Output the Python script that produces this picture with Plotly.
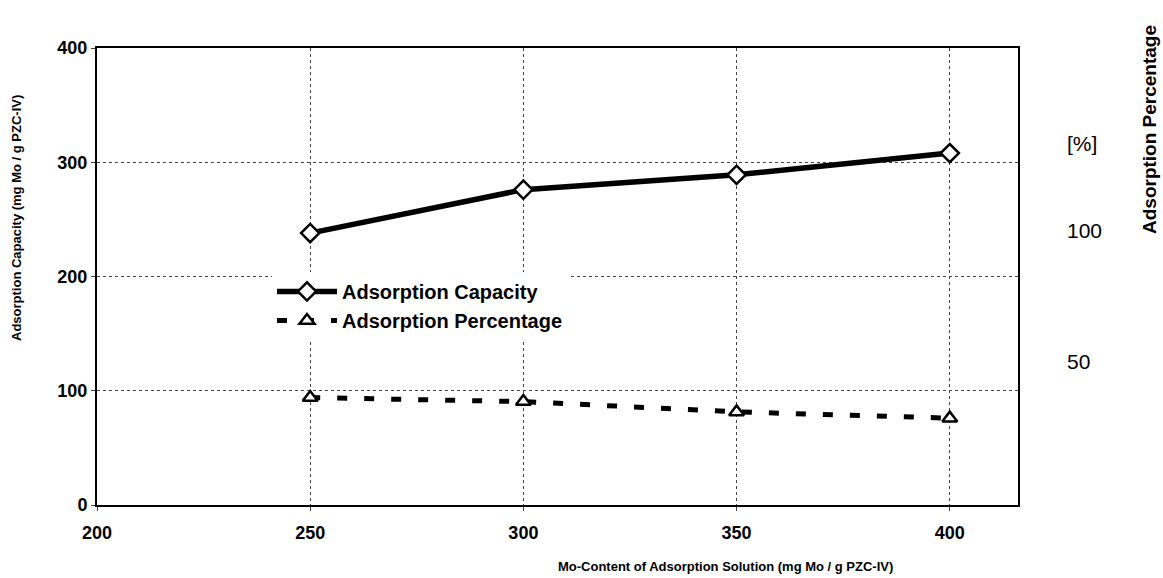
import plotly.graph_objects as go

mo_content = [250, 300, 350, 400]
adsorption_capacity = [238, 276, 289, 308]
adsorption_percentage = [94, 90.5, 81.5, 76]

x_ticks = [200, 250, 300, 350, 400]
y_ticks = [0, 100, 200, 300, 400]
y2_tickvals = [50, 100, 133.5]
y2_ticktext = ["50", "100", "[%]"]

FONT = "Liberation Sans, Arial, sans-serif"

fig = go.Figure()
fig.add_trace(go.Scatter(
    x=mo_content, y=adsorption_capacity, name="<b>Adsorption Capacity</b>",
    mode="lines+markers",
    line=dict(color="black", width=5.5),
    marker=dict(symbol="diamond", size=14, color="white", line=dict(color="black", width=2.5)),
))
fig.add_trace(go.Scatter(
    x=mo_content, y=adsorption_percentage, name="<b>Adsorption Percentage</b>",
    mode="lines+markers",
    line=dict(color="black", width=5, dash="10px,17px"),
    marker=dict(symbol="triangle-up", size=13, color="white", line=dict(color="black", width=2.5)),
))
# invisible trace to activate right axis
fig.add_trace(go.Scatter(x=[200], y=[0], yaxis="y2", mode="markers",
                         marker=dict(opacity=0), showlegend=False, hoverinfo="skip"))

fig.update_layout(
    width=1163, height=578,
    margin=dict(l=97, r=145, t=48, b=73, autoexpand=False),
    paper_bgcolor="white", plot_bgcolor="white",
    font=dict(family=FONT, color="black"),
    showlegend=True,
    legend=dict(x=0.19, y=0.51, xanchor="left", yanchor="top",
                bgcolor="white", borderwidth=0,
                font=dict(size=20, family=FONT, color="black"),
                tracegroupgap=0, itemwidth=60),
    xaxis=dict(range=[200, 416], tickvals=x_ticks,
               ticktext=[f"<b>{v}</b>" for v in x_ticks],
               tickfont=dict(size=18), ticks="outside", ticklen=4,
               ticklabelstandoff=6,
               showline=True, linecolor="black", linewidth=2, mirror=True,
               showgrid=True, gridcolor="#444", griddash="dot", gridwidth=1,
               zeroline=False, automargin=False),
    yaxis=dict(range=[0, 400], tickvals=y_ticks,
               ticktext=[f"<b>{v}</b>" for v in y_ticks],
               tickfont=dict(size=18), ticks="outside", ticklen=4,
               showline=True, linecolor="black", linewidth=2, mirror=True,
               showgrid=True, gridcolor="#444", griddash="dot", gridwidth=1,
               zeroline=False, automargin=False),
    yaxis2=dict(range=[-5, 170], overlaying="y", side="right",
                tickvals=y2_tickvals, ticktext=y2_ticktext,
                tickfont=dict(size=21), ticks="", showgrid=False,
                showline=False, zeroline=False, ticklabelstandoff=48,
                automargin=False),
)

fig.add_annotation(text="<b>Mo-Content of Adsorption Solution (mg Mo / g PZC-IV)</b>",
                   xref="paper", yref="paper", x=(725 - 97) / 921, y=-(566 - 505) / 457,
                   xanchor="center", yanchor="middle", showarrow=False,
                   font=dict(size=13, family=FONT))
fig.add_annotation(text="<b>Adsorption Capacity (mg Mo / g PZC-IV)</b>",
                   xref="paper", yref="paper", x=(16 - 97) / 921, y=(505 - 218) / 457,
                   xanchor="center", yanchor="middle", showarrow=False, textangle=-90,
                   font=dict(size=13, family=FONT))
fig.add_annotation(text="<b>Adsorption Percentage</b>",
                   xref="paper", yref="paper", x=(1149 - 97) / 921, y=(505 - 130) / 457,
                   xanchor="center", yanchor="middle", showarrow=False, textangle=-90,
                   font=dict(size=19, family=FONT))

fig.write_html("out.html", config={"displayModeBar": False},
               post_script="document.body.style.margin='0';document.body.style.padding='0';")
